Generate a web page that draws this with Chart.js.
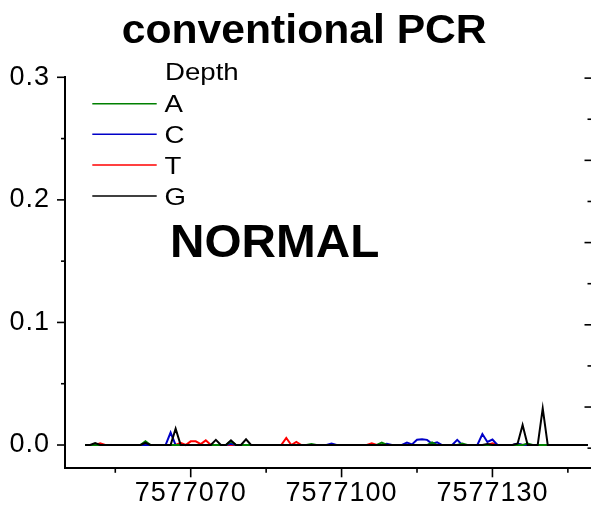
<!DOCTYPE html>
<html>
<head>
<meta charset="utf-8">
<script src="https://cdn.jsdelivr.net/npm/chart.js@4.4.1/dist/chart.umd.min.js"></script>
<style>
html,body{margin:0;padding:0;background:#fff;}
canvas{display:block;}
</style>
</head>
<body>
<canvas id="c" width="591" height="505"></canvas>
<script>
// ---- data ----
const positions = [
  7577049,7577050,7577051,7577052,7577053,7577054,7577055,7577056,7577057,7577058,
  7577059,7577060,7577061,7577062,7577063,7577064,7577065,7577066,7577067,7577068,
  7577069,7577070,7577071,7577072,7577073,7577074,7577075,7577076,7577077,7577078,
  7577079,7577080,7577081,7577082,7577083,7577084,7577085,7577086,7577087,7577088,
  7577089,7577090,7577091,7577092,7577093,7577094,7577095,7577096,7577097,7577098,
  7577099,7577100,7577101,7577102,7577103,7577104,7577105,7577106,7577107,7577108,
  7577109,7577110,7577111,7577112,7577113,7577114,7577115,7577116,7577117,7577118,
  7577119,7577120,7577121,7577122,7577123,7577124,7577125,7577126,7577127,7577128,
  7577129,7577130,7577131,7577132,7577133,7577134,7577135,7577136,7577137,7577138,
  7577139,7577140,7577141,7577142,7577143,7577144,7577145,7577146,7577147,7577148,
  7577149
];
const depthA = [
  0,0,0,0,0,0,0,0,0,0,
  0,0,0.003,0,0,0,0,0,0,0,
  0,0,0,0,0,0,0,0,0,0.003,
  0,0,0,0,0,0,0,0,0,0,
  0,0,0,0,0,0.0008,0,0,0,0,
  0,0,0,0,0,0,0,0,0,0.002,
  0,0,0,0,0,0,0,0,0,0.0022,
  0,0,0,0,0,0.0012,0,0,0,0,
  0,0,0,0,0,0,0,0,0.0012,0,
  0,0,0,0,0,0,0,0,0,0,
  0
];
const depthC = [
  0,0,0,0,0,0,0,0,0,0,
  0,0,0,0,0,0,0,0.0102,0,0,
  0,0,0,0,0,0,0,0,0,0.001,
  0,0,0,0,0,0,0,0,0,0,
  0,0,0,0,0,0,0,0,0,0.0012,
  0,0,0,0,0,0,0,0,0,0,
  0.001,0,0,0,0.002,0.0005,0.0043,0.0047,0.0042,0.001,
  0.0022,0,0,0,0.0042,0,0,0,0,0.009,
  0.0025,0.0045,0,0,0,0,0.0012,0,0,0,
  0,0,0,0,0,0,0,0,0,0,
  0
];
const depthT = [
  0,0,0,0.0013,0,0,0,0,0,0,
  0,0,0,0,0,0,0,0,0,0.0018,
  0,0.003,0.003,0.0008,0.0038,0,0,0,0,0,
  0,0,0,0,0,0,0,0,0,0,
  0.0058,0,0.0025,0,0,0,0,0,0,0,
  0,0,0,0,0,0,0,0.0013,0,0,
  0,0,0,0,0,0,0,0,0,0,
  0,0,0,0,0,0,0,0,0,0,
  0,0.0014,0,0,0,0,0.0008,0,0,0,
  0,0,0,0,0,0,0,0,0,0,
  0
];
const depthG = [
  0,0,0.0016,0,0,0,0,0,0,0,
  0,0,0.0018,0,0,0,0,0,0.0133,0,
  0,0,0,0,0,0,0.0042,0,0,0.0038,
  0,0,0.0047,0,0,0,0,0,0,0,
  0,0,0,0,0,0,0,0,0,0,
  0,0,0,0,0,0,0,0,0,0,
  0,0,0,0,0,0,0,0,0,0,
  0,0,0,0,0,0,0,0,0,0,
  0.0008,0,0,0,0,0,0.001,0.0163,0,0,
  0,0.0299,0,0,0,0,0,0,0,0,
  0
];
const seriesNames = ['A', 'C', 'T', 'G'];
const xTickValues = [7577070, 7577100, 7577130];
const xMinorTickValues = [7577055, 7577085, 7577115, 7577145];
const yTickValues = [0, 0.1, 0.2, 0.3];
const yMinorTickValues = [0.05, 0.15, 0.25];
const rightTickValues = [1, 3, 5, 7, 9];
const rightMinorTickValues = [0, 2, 4, 6, 8];
const titleText = 'conventional PCR';
const legendTitle = 'Depth';
const annotationText = 'NORMAL';

// ---- styling ----
const FONT = '"Liberation Sans", Arial, Helvetica, sans-serif';
Chart.defaults.font.family = FONT;
Chart.defaults.color = '#000';
const seriesColors = ['#008000', '#0000c8', '#ff0000', '#000000'];
const drawOrder = [1, 2, 3, 0];
const seriesValues = [depthA, depthC, depthT, depthG];

const datasets = seriesNames.map((name, i) => ({
  label: name,
  data: positions.map((p, j) => ({x: p, y: seriesValues[i][j]})),
  borderColor: seriesColors[i],
  backgroundColor: seriesColors[i],
  borderWidth: 2,
  pointRadius: 0,
  tension: 0,
  fill: false,
  order: drawOrder[i]
}));

const spacingPlugin = {
  id: 'spacing',
  beforeLayout(chart) { chart.ctx.letterSpacing = '1px'; },
  beforeDraw(chart) { chart.ctx.letterSpacing = '1px'; }
};

const decorPlugin = {
  id: 'decor',
  afterDraw(chart) {
    const {ctx, chartArea: a} = chart;
    const xs = chart.scales.x, ys = chart.scales.y, rs = chart.scales.y2;
    ctx.save();
    ctx.letterSpacing = '0px';
    ctx.strokeStyle = '#000';
    ctx.lineWidth = 1.6;
    const seg = (x1, y1, x2, y2) => { ctx.beginPath(); ctx.moveTo(x1, y1); ctx.lineTo(x2, y2); ctx.stroke(); };
    yTickValues.forEach(v => { const p = ys.getPixelForValue(v); seg(a.left - 8, p, a.left, p); });
    yMinorTickValues.forEach(v => { const p = ys.getPixelForValue(v); seg(a.left - 4, p, a.left, p); });
    xTickValues.forEach(v => { const p = xs.getPixelForValue(v); seg(p, a.bottom, p, a.bottom + 9); });
    xMinorTickValues.forEach(v => { const p = xs.getPixelForValue(v); seg(p, a.bottom, p, a.bottom + 4.5); });
    rightTickValues.forEach(v => { const p = rs.getPixelForValue(v); seg(a.right - 6.5, p, a.right, p); });
    rightMinorTickValues.forEach(v => { const p = rs.getPixelForValue(v); seg(a.right - 3.5, p, a.right, p); });

    ctx.fillStyle = '#000';
    ctx.textAlign = 'left';
    ctx.textBaseline = 'alphabetic';
    const stretched = (text, font, x, y, sx) => {
      ctx.save();
      ctx.font = font;
      ctx.translate(x, y);
      ctx.scale(sx, 1);
      ctx.fillText(text, 0, 0);
      ctx.restore();
    };
    // title
    stretched(titleText, 'bold 40px ' + FONT, 121.8, 43.3, 1.066);

    // legend
    stretched(legendTitle, '24px ' + FONT, 165, 80, 1.15);
    const rows = [103.7, 134.3, 165, 196];
    chart.data.datasets.forEach((ds, i) => {
      ctx.strokeStyle = ds.borderColor;
      ctx.lineWidth = 1.5;
      seg(92.3, rows[i], 156.7, rows[i]);
      stretched(ds.label, '24px ' + FONT, 164.5, rows[i] + 8.6, 1.15);
    });

    // annotation
    stretched(annotationText, 'bold 47px ' + FONT, 170, 256.7, 1.015);
    ctx.restore();
  }
};

new Chart(document.getElementById('c'), {
  type: 'line',
  data: {datasets},
  options: {
    responsive: false,
    animation: false,
    devicePixelRatio: 1,
    layout: {padding: {top: 77.3, left: 0, right: 0, bottom: 0}},
    plugins: {legend: {display: false}, tooltip: {enabled: false}, title: {display: false}},
    scales: {
      x: {
        type: 'linear', position: 'bottom',
        min: 7577045, max: 7577149.6,
        grid: {display: false, drawTicks: false},
        border: {display: true, color: '#000', width: 2},
        ticks: {color: '#000', font: {size: 27}, padding: 9, maxRotation: 0, autoSkip: false,
                callback: v => String(v)},
        afterBuildTicks: s => { s.ticks = xTickValues.map(v => ({value: v})); },
        afterFit: s => { s.height = 36.7; }
      },
      y: {
        type: 'linear', position: 'left',
        min: -0.019, max: 0.3,
        grid: {display: false, drawTicks: false},
        border: {display: true, color: '#000', width: 2},
        ticks: {color: '#000', font: {size: 27}, padding: 15, callback: v => Number(v).toFixed(1)},
        afterBuildTicks: s => { s.ticks = yTickValues.map(v => ({value: v})); },
        afterFit: s => { s.width = 65; }
      },
      y2: {
        type: 'linear', position: 'right', display: false,
        min: -0.49, max: 9.02,
        grid: {drawOnChartArea: false}
      }
    }
  },
  plugins: [spacingPlugin, decorPlugin]
});
</script>
</body>
</html>
